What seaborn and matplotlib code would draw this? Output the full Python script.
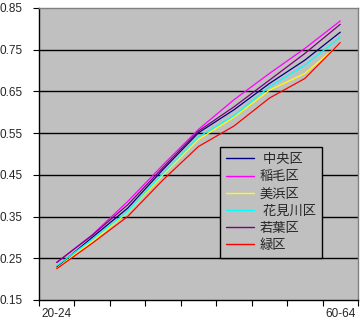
import matplotlib
matplotlib.use("Agg")
import matplotlib.pyplot as plt
import seaborn as sns
import pandas as pd
import numpy as np

# ---- data ----
age_groups = ["20-24", "25-29", "30-34", "35-39", "40-44", "45-49", "50-54", "55-59", "60-64"]
wards = [" 中央区", "稲毛区", "美浜区", " 花見川区", "若葉区", "緑区"]
chuo      = [0.229, 0.300, 0.370, 0.463, 0.551, 0.606, 0.669, 0.725, 0.792]
inage     = [0.240, 0.306, 0.386, 0.474, 0.559, 0.630, 0.693, 0.753, 0.819]
mihama    = [0.226, 0.290, 0.360, 0.450, 0.535, 0.588, 0.653, 0.693, 0.765]
hanamigawa= [0.232, 0.295, 0.362, 0.454, 0.541, 0.592, 0.661, 0.713, 0.780]
wakaba    = [0.240, 0.305, 0.378, 0.468, 0.555, 0.613, 0.677, 0.741, 0.811]
midori    = [0.225, 0.286, 0.350, 0.438, 0.518, 0.567, 0.634, 0.681, 0.767]
colors = ["#000080", "#FF00FF", "#FFFF00", "#00FFFF", "#800080", "#FF0000"]

series = [chuo, inage, mihama, hanamigawa, wakaba, midori]
rows = []
for w, vals in zip(wards, series):
    for i, v in enumerate(vals):
        rows.append({"pos": i, "age": age_groups[i], "ward": w, "value": v})
df = pd.DataFrame(rows)

sns.set_theme(style="white")
plt.rcParams["font.family"] = ["Liberation Sans", "Noto Sans CJK JP", "DejaVu Sans"]

fig = plt.figure(figsize=(3.63, 3.27), dpi=100)
fig.patch.set_facecolor("white")
ax = fig.add_axes([39/363, 27/327, 319/363, 292/327])
ax.set_facecolor("#C0C0C0")

sns.lineplot(data=df, x="pos", y="value", hue="ward", hue_order=wards,
             palette=colors, linewidth=0.9, ax=ax, legend=True)

ax.set_xlim(-0.5, 8.5)
ax.set_ylim(0.15, 0.85)
yt = [0.15, 0.25, 0.35, 0.45, 0.55, 0.65, 0.75, 0.85]
ax.set_yticks(yt)
ax.set_yticklabels([f"{v:.2f}" for v in yt])
for v in yt[1:-1]:
    ax.axhline(v, color="black", linewidth=1.0, zorder=0.5)

ax.set_xticks([0, 8])
ax.set_xticklabels([age_groups[0], age_groups[-1]])
ax.tick_params(axis="x", length=0, pad=6, labelsize=8.5)
ax.set_xticks(np.arange(-0.5, 9.0, 1.0), minor=True)
ax.tick_params(axis="x", which="minor", length=4, width=0.8, color="black", direction="out", bottom=True)
ax.tick_params(axis="y", length=4, width=0.8, color="black", direction="out", left=True, labelsize=8.5, pad=8)

ax.set_xlabel("")
ax.set_ylabel("")
for s in ["left", "bottom"]:
    ax.spines[s].set_color("black")
    ax.spines[s].set_linewidth(1.0)
for s in ["top", "right"]:
    ax.spines[s].set_color("#808080")
    ax.spines[s].set_linewidth(1.0)

handles, labels = ax.get_legend_handles_labels()
leg = ax.legend(handles, labels, loc="upper left",
                bbox_to_anchor=(220/363, 1 - 147/327), bbox_transform=fig.transFigure,
                frameon=True, fancybox=False, framealpha=1, edgecolor="black",
                facecolor="#C0C0C0", prop={"family": ["Noto Sans CJK JP"], "size": 9.5},
                handlelength=2.1, handletextpad=0.45, labelspacing=0.32,
                borderpad=0.45, borderaxespad=0)
leg.get_frame().set_linewidth(1.0)
for h in leg.get_lines():
    h.set_linewidth(1.0)

fig.savefig("out.png", dpi=100, facecolor="white")
